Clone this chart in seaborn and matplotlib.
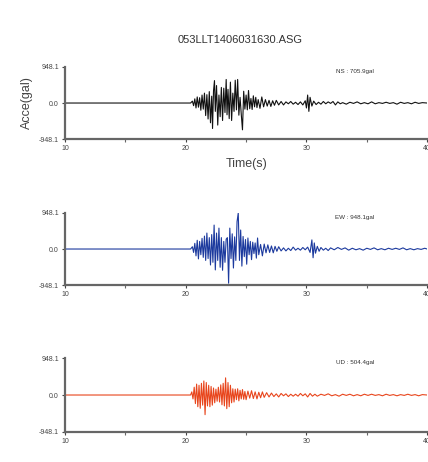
import matplotlib
matplotlib.use("Agg")
import matplotlib.pyplot as plt
import numpy as np
import pandas as pd
import seaborn as sns

# acceleration records (time in s, acceleration in gal)
ns_t = [10.0, 20.4, 20.55, 20.65, 20.75, 20.85, 20.95, 21.05, 21.15, 21.25,
        21.35, 21.45, 21.55, 21.65, 21.75, 21.85, 21.95, 22.05, 22.15, 22.22,
        22.3, 22.38, 22.45, 22.55, 22.65, 22.75, 22.85, 22.95, 23.05, 23.15,
        23.25, 23.35, 23.42, 23.5, 23.6, 23.7, 23.8, 23.9, 24.0, 24.1,
        24.2, 24.3, 24.4, 24.5, 24.6, 24.7, 24.8, 24.9, 25.0, 25.1,
        25.2, 25.3, 25.4, 25.5, 25.6, 25.7, 25.8, 25.9, 26.0, 26.15,
        26.3, 26.45, 26.6, 26.75, 26.9, 27.05, 27.2, 27.35, 27.5, 27.7,
        27.9, 28.1, 28.3, 28.5, 28.7, 28.9, 29.1, 29.3, 29.5, 29.7,
        29.9, 30.0, 30.1, 30.2, 30.3, 30.45, 30.6, 30.8, 31.0, 31.2,
        31.4, 31.6, 31.8, 32.0, 32.2, 32.4, 32.6, 32.8, 33.0, 33.3,
        33.6, 33.9, 34.2, 34.5, 34.8, 35.1, 35.4, 35.7, 36.0, 36.3,
        36.6, 36.9, 37.2, 37.5, 37.8, 38.1, 38.4, 38.7, 39.0, 39.3,
        39.6, 40.0]
ns_acc = [0, 0, 50, -70, 110, -130, 160, -110, 140, -190,
          210, -160, 260, -330, 220, -420, 300, -520, 180, -670,
          320, 590, -220, 460, -580, 210, -360, 410, -460, 390,
          -250, 620, -310, 360, -410, 550, -460, 260, -220, 600,
          -180, 620, -320, 150, -300, -705, 310, -160, 210, -180,
          330, -150, 120, -170, 190, -100, 150, -120, 90, -140,
          160, -100, 90, -80, 70, -90, 60, -60, 70, -50,
          40, -50, 30, -20, 40, -30, 20, -40, 30, -50,
          60, -130, 210, -220, 150, -80, 50, -40, 20, -30,
          40, -20, 30, -10, 40, -50, 30, -20, 10, -30,
          20, -10, 30, -20, 10, -20, 30, -20, 10, -10,
          20, -10, 10, -30, 20, -10, 10, -20, 20, -10,
          10, 0]

ew_t = [10.0, 20.4, 20.55, 20.65, 20.75, 20.85, 20.95, 21.05, 21.15, 21.25,
        21.35, 21.45, 21.55, 21.65, 21.75, 21.85, 21.95, 22.05, 22.15, 22.25,
        22.35, 22.45, 22.55, 22.65, 22.75, 22.85, 22.95, 23.05, 23.15, 23.25,
        23.35, 23.45, 23.55, 23.65, 23.75, 23.85, 23.95, 24.05, 24.15, 24.25,
        24.35, 24.45, 24.55, 24.65, 24.75, 24.85, 24.95, 25.05, 25.15, 25.25,
        25.35, 25.45, 25.55, 25.65, 25.75, 25.85, 25.95, 26.05, 26.2, 26.35,
        26.5, 26.65, 26.8, 26.95, 27.1, 27.25, 27.4, 27.55, 27.7, 27.9,
        28.1, 28.3, 28.5, 28.7, 28.9, 29.1, 29.3, 29.5, 29.7, 29.9,
        30.1, 30.3, 30.45, 30.55, 30.65, 30.75, 30.9, 31.05, 31.2, 31.4,
        31.6, 31.8, 32.0, 32.3, 32.6, 32.9, 33.2, 33.5, 33.8, 34.1,
        34.4, 34.7, 35.0, 35.3, 35.6, 35.9, 36.2, 36.5, 36.8, 37.1,
        37.4, 37.7, 38.0, 38.3, 38.6, 38.9, 39.2, 39.5, 39.8, 40.0]
ew_acc = [0, 0, 60, -90, 150, -180, 230, -260, 200, -150,
          280, -220, 340, -300, 420, -250, 300, -420, 380, -350,
          630, -550, 420, -300, 550, -480, 300, -560, 200, -350,
          260, 300, -900, 550, -250, 400, -500, 320, -300, 720,
          948, -300, 500, -450, 330, -200, 250, -400, 290, -150,
          200, -280, 180, -120, 160, -240, 290, -150, 120, -180,
          130, -100, 110, -90, 80, -100, 70, -60, 60, -50,
          30, -50, 20, -40, 50, -30, 20, -30, 40, -20,
          50, -90, 240, -230, 160, -110, 70, -60, 40, -30,
          20, -40, 30, -20, 40, -10, 30, -30, 20, -20,
          10, -30, 20, -10, 30, -20, 10, -20, 20, -10,
          20, -10, 30, -20, 10, -20, 10, -10, 20, 0]

ud_t = [10.0, 20.4, 20.5, 20.6, 20.7, 20.8, 20.9, 21.0, 21.1, 21.2,
        21.3, 21.4, 21.5, 21.6, 21.7, 21.8, 21.9, 22.0, 22.1, 22.2,
        22.3, 22.4, 22.5, 22.6, 22.7, 22.8, 22.9, 23.0, 23.1, 23.2,
        23.3, 23.4, 23.5, 23.6, 23.7, 23.8, 23.9, 24.0, 24.1, 24.2,
        24.3, 24.4, 24.5, 24.6, 24.7, 24.8, 24.9, 25.0, 25.15, 25.3,
        25.45, 25.6, 25.75, 25.9, 26.05, 26.2, 26.35, 26.5, 26.7, 26.9,
        27.1, 27.3, 27.5, 27.7, 27.9, 28.1, 28.3, 28.5, 28.7, 28.9,
        29.1, 29.3, 29.5, 29.7, 29.9, 30.1, 30.3, 30.5, 30.7, 30.9,
        31.2, 31.5, 31.8, 32.1, 32.4, 32.7, 33.0, 33.3, 33.6, 33.9,
        34.2, 34.5, 34.8, 35.1, 35.4, 35.7, 36.0, 36.3, 36.6, 36.9,
        37.2, 37.5, 37.8, 38.1, 38.4, 38.7, 39.0, 39.3, 39.6, 40.0]
ud_acc = [0, 0, 80, -100, 200, -220, 280, -300, 250, -340,
          300, -260, 360, -504, 320, -280, 250, -300, 220, -260,
          180, -200, 150, -160, 200, -180, 260, -250, 300, -280,
          440, -350, 320, -300, 250, -200, 160, -180, 150, -120,
          160, -150, 120, -100, 140, -110, 90, -120, 100, -80,
          110, -90, 80, -100, 70, -70, 80, -60, 60, -50,
          50, -40, 30, -50, 40, -20, 30, -40, 20, -30,
          20, -30, 40, -20, 30, -50, 40, -30, 20, -30,
          20, -10, 30, -20, 10, -30, 20, -10, 20, -20,
          10, -20, 20, -10, 20, -10, 10, -20, 20, -10,
          10, -20, 10, -10, 20, -10, 10, -20, 10, 0]

components = ["NS", "EW", "UD"]
peak_labels = ["NS : 705.9gal", "EW : 948.1gal", "UD : 504.4gal"]
colors = ["#111111", "#1c3a9e", "#e8451c"]
y_lim = 948.1
x_ticks = [10, 20, 30, 40]
x_minor = [15, 25, 35]
y_ticks = [-948.1, 0.0, 948.1]
y_labels = ["-948.1", "0.0", "948.1"]
title = "053LLT1406031630.ASG"

sns.set_theme(style="white")
plt.rcParams["font.family"] = ["Liberation Sans", "DejaVu Sans"]

frames = [pd.DataFrame({"t": ns_t, "acc": ns_acc}),
          pd.DataFrame({"t": ew_t, "acc": ew_acc}),
          pd.DataFrame({"t": ud_t, "acc": ud_acc})]

fig = plt.figure(figsize=(4.28, 4.62), dpi=100)
# panel boxes [left, bottom, width, height] in figure fraction
boxes = [[0.152, 0.699, 0.846, 0.156],
         [0.152, 0.383, 0.846, 0.156],
         [0.152, 0.065, 0.846, 0.160]]

for i, (df, box) in enumerate(zip(frames, boxes)):
    ax = fig.add_axes(box)
    sns.lineplot(data=df, x="t", y="acc", ax=ax, color=colors[i],
                 linewidth=0.8, estimator=None, sort=False)
    ax.set_xlim(10, 40)
    ax.set_ylim(-y_lim, y_lim)
    ax.set_xticks(x_ticks)
    ax.set_xticklabels([str(v) for v in x_ticks])
    ax.set_xticks(x_minor, minor=True)
    ax.set_yticks(y_ticks)
    ax.set_yticklabels(y_labels)
    ax.tick_params(axis="both", which="major", labelsize=5, colors="#444444",
                   length=2.5, width=0.8, direction="out", pad=2,
                   bottom=True, left=True)
    ax.tick_params(axis="x", which="minor", length=2, width=0.8,
                   color="#666666", bottom=True)
    for side in ["top", "right"]:
        ax.spines[side].set_visible(False)
    for side in ["left", "bottom"]:
        ax.spines[side].set_color("#666666")
        ax.spines[side].set_linewidth(1.6)
    ax.set_xlabel("")
    ax.set_ylabel("")
    ax.text(0.80, 0.94, peak_labels[i], transform=ax.transAxes,
            ha="center", va="center", fontsize=4.5, color="#333333")
    if i == 0:
        ax.set_xlabel("Time(s)", fontsize=9, color="#444444", labelpad=4)
        ax.set_ylabel("Acce(gal)", fontsize=9, color="#444444", labelpad=4)

fig.text(0.561, 0.913, title, ha="center", va="center", fontsize=8,
         color="#333333")

fig.savefig("out.png", dpi=100)
